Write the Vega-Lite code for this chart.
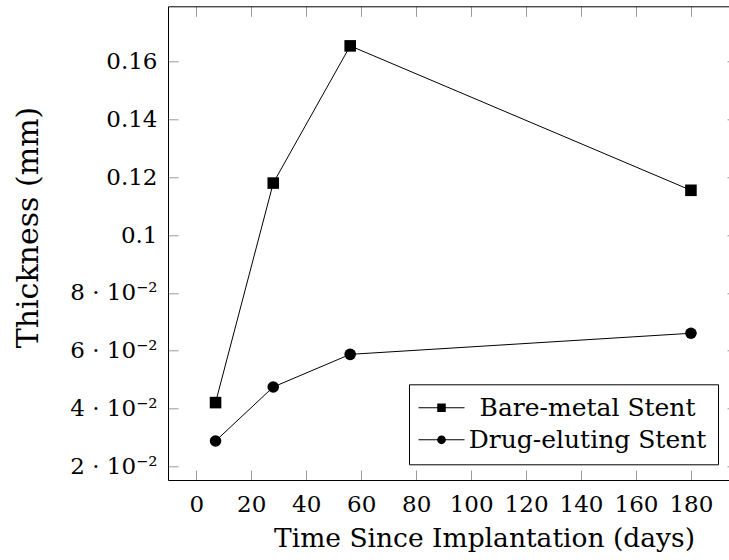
{
  "$schema": "https://vega.github.io/schema/vega-lite/v6.json",
  "width": 561,
  "height": 473.7,
  "autosize": {"type": "none"},
  "padding": {"left": 168, "top": 6.3, "right": 0, "bottom": 80},
  "background": "white",
  "config": {"view": {"stroke": null}, "font": "DejaVu Serif"},
  "data": {
    "values": [
      {"series": "Bare-metal Stent", "day": 7, "thickness": 0.042},
      {"series": "Bare-metal Stent", "day": 28, "thickness": 0.118},
      {"series": "Bare-metal Stent", "day": 56, "thickness": 0.1655},
      {"series": "Bare-metal Stent", "day": 180, "thickness": 0.1155},
      {"series": "Drug-eluting Stent", "day": 7, "thickness": 0.0287},
      {"series": "Drug-eluting Stent", "day": 28, "thickness": 0.0474},
      {"series": "Drug-eluting Stent", "day": 56, "thickness": 0.0587},
      {"series": "Drug-eluting Stent", "day": 180, "thickness": 0.066}
    ]
  },
  "resolve": {"axis": {"x": "independent", "y": "independent"}, "scale": {"shape": "independent"}},
  "layer": [
    {
      "mark": {"type": "line", "color": "black", "strokeWidth": 1},
      "encoding": {
        "x": {
          "field": "day", "type": "quantitative",
          "scale": {"domain": [-10.3, 193.85], "nice": false, "zero": false},
          "axis": {
            "orient": "bottom", "values": [0, 20, 40, 60, 80, 100, 120, 140, 160, 180],
            "grid": false, "tickSize": -10, "tickColor": "#999", "tickWidth": 1,
            "domainColor": "black", "domainWidth": 1,
            "labelFont": "DejaVu Serif", "labelFontSize": 23, "labelColor": "black",
            "labelPadding": 23, "labelFlush": false, "labelOverlap": false,
            "title": "Time Since Implantation (days)", "titleFont": "DejaVu Serif",
            "titleFontSize": 26.5, "titleFontWeight": "normal", "titleColor": "black",
            "titleX": 316, "titleY": 66, "titleBaseline": "alphabetic", "titleAlign": "center"
          }
        },
        "y": {
          "field": "thickness", "type": "quantitative",
          "scale": {"domain": [0.0152, 0.1792], "nice": false, "zero": false},
          "axis": {
            "orient": "left", "values": [0.02, 0.04, 0.06, 0.08, 0.1, 0.12, 0.14, 0.16],
            "grid": false, "tickSize": -10, "tickColor": "#999", "tickWidth": 1,
            "domainColor": "black", "domainWidth": 1,
            "labelExpr": "datum.value < 0.09 ? round(datum.value*100) + ' · 10⁻²' : '' + datum.value",
            "labelFont": "DejaVu Serif", "labelFontSize": 23, "labelColor": "black",
            "labelPadding": 21, "labelFlush": false, "labelOverlap": false,
            "title": "Thickness (mm)", "titleFont": "DejaVu Serif",
            "titleFontSize": 30, "titleFontWeight": "normal", "titleColor": "black",
            "titleX": -140, "titleY": 220.7, "titleBaseline": "middle", "titleAngle": 270, "titleAlign": "center"
          }
        },
        "detail": {"field": "series", "type": "nominal"}
      }
    },
    {
      "mark": {"type": "point", "filled": true, "color": "black", "opacity": 1, "size": 134, "strokeWidth": 0},
      "encoding": {
        "x": {
          "field": "day", "type": "quantitative",
          "axis": {
            "orient": "top", "values": [0, 20, 40, 60, 80, 100, 120, 140, 160, 180],
            "grid": false, "labels": false, "title": null, "tickSize": -10, "tickColor": "#999", "tickWidth": 1,
            "domainColor": "black", "domainWidth": 1
          }
        },
        "y": {
          "field": "thickness", "type": "quantitative",
          "axis": {
            "orient": "right", "values": [0.02, 0.04, 0.06, 0.08, 0.1, 0.12, 0.14, 0.16],
            "grid": false, "labels": false, "title": null, "tickSize": -2, "tickColor": "#999", "tickWidth": 1,
            "domain": false
          }
        },
        "shape": {
          "field": "series", "type": "nominal",
          "scale": {"domain": ["Bare-metal Stent", "Drug-eluting Stent"], "range": ["square", "circle"]},
          "legend": null
        }
      }
    },
    {
      "mark": {"type": "point", "filled": true, "color": "black", "opacity": 0, "size": 400, "strokeWidth": 0},
      "encoding": {
        "x": {"field": "day", "type": "quantitative", "axis": null},
        "y": {"field": "thickness", "type": "quantitative", "axis": null},
        "shape": {
          "field": "series", "type": "nominal",
          "scale": {
            "domain": ["Bare-metal Stent", "Drug-eluting Stent"],
            "range": [
              "M-2.3,-0.055L2.3,-0.055L2.3,0.055L-2.3,0.055ZM-0.426,-0.426L0.426,-0.426L0.426,0.426L-0.426,0.426Z",
              "M-2.3,-0.055L2.3,-0.055L2.3,0.055L-2.3,0.055ZM0.437,0C0.437,0.2414 0.2414,0.437 0,0.437C-0.2414,0.437 -0.437,0.2414 -0.437,0C-0.437,-0.2414 -0.2414,-0.437 0,-0.437C0.2414,-0.437 0.437,-0.2414 0.437,0Z"
            ]
          },
          "legend": {
            "orient": "none", "legendX": 241, "legendY": 378, "title": null,
            "symbolSize": 400, "symbolFillColor": "black", "symbolStrokeWidth": 0,
            "symbolOpacity": 1, "symbolOffset": 9,
            "labelFont": "DejaVu Serif", "labelFontSize": 25, "labelColor": "black",
            "labelAlign": "center", "labelOffset": 133.5, "labelLimit": 400,
            "strokeColor": "black", "fillColor": "white", "padding": 11, "rowPadding": 6
          }
        }
      }
    }
  ]
}
